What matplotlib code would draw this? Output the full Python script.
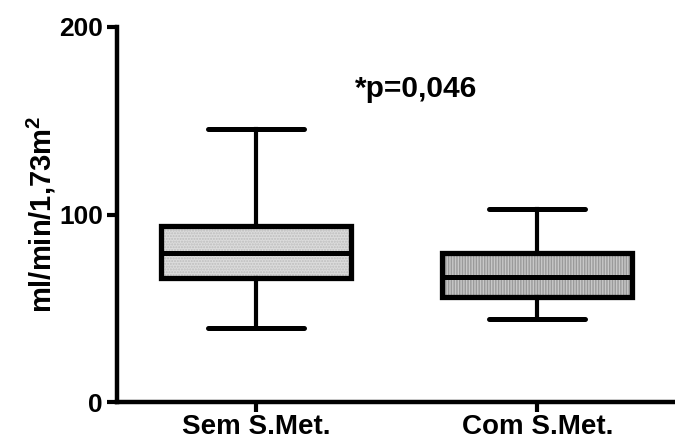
import matplotlib
matplotlib.use("Agg")
import matplotlib.pyplot as plt
from matplotlib.patches import PathPatch

plt.rcParams['font.family'] = ['Liberation Sans', 'DejaVu Sans']
plt.rcParams['font.weight'] = 'bold'
plt.rcParams['mathtext.fontset'] = 'custom'
plt.rcParams['mathtext.rm'] = 'Liberation Sans:bold'
plt.rcParams['mathtext.bf'] = 'Liberation Sans:bold'
plt.rcParams['mathtext.it'] = 'Liberation Sans:bold'
plt.rcParams['hatch.linewidth'] = 1.0

categories = ["Sem S.Met.", "Com S.Met."]
whislo = [39.3, 44.1]
q1 = [66.1, 55.8]
med = [79.3, 66.5]
q3 = [93.9, 79.3]
whishi = [145.4, 102.9]
yticks = [0, 100, 200]
annotation = "*p=0,046"
ylabel = "ml/min/1,73m$^{\\mathbf{2}}$"

face_colors = ["#dcdcdc", "#c8c8c8"]
hatches = ["......", "||||||"]
hatch_colors = ["#bdbdbd", "#9a9a9a"]

fig = plt.figure(figsize=(6.75, 4.41), dpi=100)
ax = fig.add_axes([0.1733, 0.0884, 0.8267, 0.8504])

stats = []
for i, c in enumerate(categories):
    stats.append(dict(label=c, whislo=whislo[i], q1=q1[i], med=med[i],
                      q3=q3[i], whishi=whishi[i], fliers=[]))

positions = [1, 2]
bp = ax.bxp(stats, positions=positions, widths=0.676, patch_artist=True,
            showfliers=False,
            boxprops=dict(linewidth=0),
            medianprops=dict(color='black', linewidth=3.6, solid_capstyle='butt'),
            whiskerprops=dict(color='black', linewidth=3.0),
            capprops=dict(color='black', linewidth=3.6, solid_capstyle='round'),
            capwidths=0.34)

for i, patch in enumerate(bp['boxes']):
    patch.set_facecolor(face_colors[i])
    patch.set_edgecolor(hatch_colors[i])
    patch.set_hatch(hatches[i])
    patch.set_linewidth(0)
    outline = PathPatch(patch.get_path(), transform=patch.get_transform(),
                        facecolor='none', edgecolor='black', linewidth=3.8,
                        joinstyle='miter', zorder=patch.get_zorder() + 0.5)
    ax.add_patch(outline)

ax.set_xlim(0.505, 2.49)
ax.set_ylim(0, 200)
ax.set_yticks(yticks)
ax.set_yticklabels([str(t) for t in yticks], fontsize=19, fontweight='bold')
ax.set_xticks(positions)
ax.set_xticklabels(categories, fontsize=20, fontweight='bold')
ax.tick_params(axis='y', length=7, width=3, direction='out', pad=3)
ax.tick_params(axis='x', length=7, width=3, direction='out', pad=1.5)

for s in ['top', 'right']:
    ax.spines[s].set_visible(False)
for s in ['left', 'bottom']:
    ax.spines[s].set_linewidth(3.2)
ax.spines['left'].set_capstyle('projecting')

ax.set_ylabel(ylabel, fontsize=21, fontweight='bold', labelpad=1)

ax.text(1.352, 162.7, annotation, fontsize=21.5, fontweight='bold',
        ha='left', va='baseline')

fig.savefig("out.png", dpi=100)
